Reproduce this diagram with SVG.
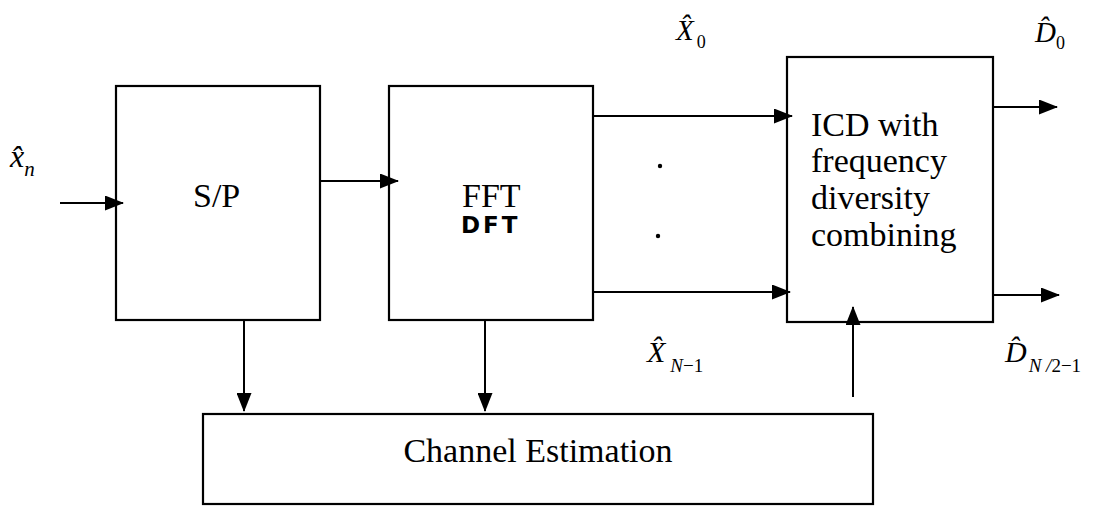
<svg xmlns="http://www.w3.org/2000/svg" width="1118" height="508" viewBox="0 0 1118 508">
<style>
.box{fill:none;stroke:#000;stroke-width:2.2}
.ln{fill:none;stroke:#000;stroke-width:2}
.t{font-family:"Liberation Serif","Times New Roman",serif;font-size:34px;fill:#000}
.m{font-family:"Liberation Serif","Times New Roman",serif;font-style:italic;fill:#000}
.s{font-style:normal}
.hw{font-family:"DejaVu Sans",sans-serif;font-weight:bold;font-size:23px;fill:#000;letter-spacing:3px}
</style>
<defs>
<marker id="ah" markerUnits="userSpaceOnUse" markerWidth="19" markerHeight="15" refX="18" refY="7.5" orient="auto">
<path d="M0,0 L19,7.5 L0,15 Z" fill="#000"/>
</marker>
</defs>
<g id="sp">
<rect class="box" x="116" y="86" width="204" height="234"/>
<text class="t" x="193" y="207">S/P</text>
</g>
<g id="fft">
<rect class="box" x="389" y="86" width="204" height="234"/>
<text class="t" x="462" y="207">FFT</text>
<text class="hw" x="461" y="233">DFT</text>
</g>
<g id="icd">
<rect class="box" x="787" y="57" width="206" height="265"/>
<text class="t" x="811" y="136">ICD with</text>
<text class="t" x="811" y="172">frequency</text>
<text class="t" x="811" y="209">diversity</text>
<text class="t" x="811" y="246">combining</text>
</g>
<g id="ce">
<rect class="box" x="203" y="414" width="670" height="90"/>
<text class="t" x="538" y="462" text-anchor="middle">Channel Estimation</text>
</g>
<g id="connectors">
<line class="ln" x1="60" y1="203" x2="123" y2="203" marker-end="url(#ah)"/>
<line class="ln" x1="320" y1="181" x2="398" y2="181" marker-end="url(#ah)"/>
<line class="ln" x1="593" y1="116" x2="792" y2="116" marker-end="url(#ah)"/>
<line class="ln" x1="593" y1="292" x2="790" y2="292" marker-end="url(#ah)"/>
<line class="ln" x1="993" y1="107" x2="1057" y2="107" marker-end="url(#ah)"/>
<line class="ln" x1="993" y1="295" x2="1059" y2="295" marker-end="url(#ah)"/>
<line class="ln" x1="244" y1="320" x2="244" y2="411" marker-end="url(#ah)"/>
<line class="ln" x1="485" y1="320" x2="485" y2="411" marker-end="url(#ah)"/>
<line class="ln" x1="853" y1="397" x2="853" y2="307" marker-end="url(#ah)"/>
</g>
<g id="dots">
<circle cx="660" cy="166" r="2.2" fill="#000"/>
<circle cx="658" cy="236" r="2.2" fill="#000"/>
</g>
<g id="labels">
<text class="m" x="10" y="167" font-size="32">x̂<tspan font-size="21" dy="9">n</tspan></text>
<text class="m" x="676" y="40" font-size="29">X̂<tspan class="s" font-size="18" dx="3" dy="8">0</tspan></text>
<text class="m" x="1035" y="42" font-size="29">D̂<tspan class="s" font-size="18" dy="7">0</tspan></text>
<text class="m" x="647" y="362" font-size="30">X̂<tspan font-size="19" dx="5" dy="10">N</tspan><tspan class="s" font-size="19">−1</tspan></text>
<text class="m" x="1005" y="362" font-size="30">D̂<tspan font-size="19" dx="2" dy="10">N</tspan><tspan font-size="19"> /</tspan><tspan class="s" font-size="19">2−1</tspan></text>
</g>
</svg>
